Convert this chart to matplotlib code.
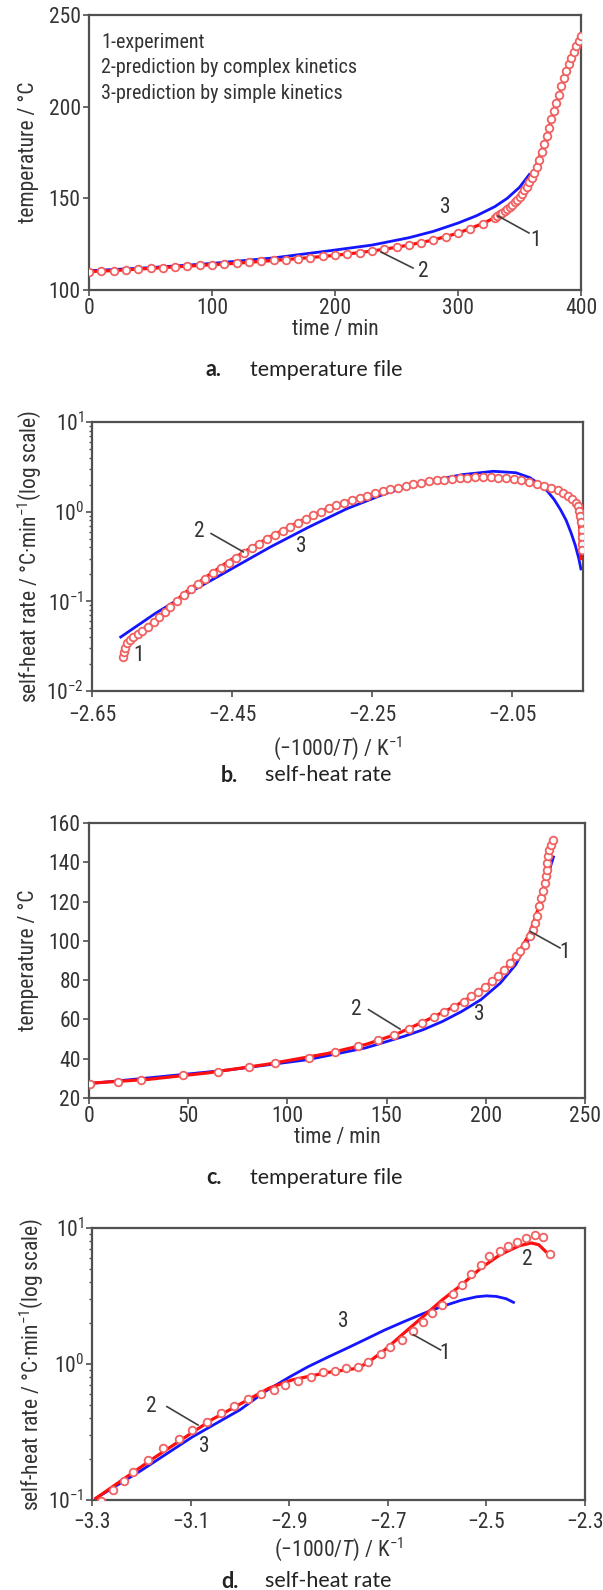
import numpy as np
import matplotlib
matplotlib.use("Agg")
import matplotlib.pyplot as plt
from matplotlib import font_manager as fm

# a narrow sans for the axes text, if one is installed
names = {f.name for f in fm.fontManager.ttflist}
NARROW = None
for cand in ["Liberation Sans Narrow", "Arial Narrow", "Roboto Condensed", "Noto Sans Condensed",
             "Open Sans Condensed", "DejaVu Sans Condensed"]:
    if cand in names:
        NARROW = cand
        break
if NARROW is None:
    cond = [f.name for f in fm.fontManager.ttflist
            if str(f.stretch) in ("condensed", "semi-condensed", "75", "87.5") and f.style == "normal"]
    if cond:
        NARROW = cond[0]
        plt.rcParams["font.stretch"] = "condensed"
    else:
        NARROW = "Liberation Sans"

plt.rcParams["font.family"] = [NARROW, "DejaVu Sans"]
plt.rcParams["mathtext.fontset"] = "custom"
plt.rcParams["mathtext.rm"] = NARROW
plt.rcParams["mathtext.it"] = NARROW + ":italic"
plt.rcParams["mathtext.bf"] = NARROW + ":bold"

#--------------------------- DATA ---------------------------#
# a. temperature file (time / min, temperature / C)
a_exp_t = [0, 10, 20, 30, 40, 50, 60, 70, 80, 90, 100, 110, 120, 130, 140, 150, 160, 170, 180, 190,
           200, 210, 220, 230, 240, 250, 260, 270, 280, 290, 300, 310, 320, 330, 332, 334, 336, 338,
           340, 342, 344, 346, 348, 350, 352, 354, 356, 358, 360, 362, 364, 366, 368, 370, 372, 374,
           376, 378, 380, 382, 384, 386, 388, 390, 392, 394, 396, 398, 400]
a_exp_T = [110, 110.3, 110.6, 111, 111.4, 111.8, 112.2, 112.6, 113, 113.4, 113.8, 114.2, 114.6, 115.1, 115.6,
           116.1, 116.6, 117.1, 117.7, 118.3, 118.9, 119.6, 120.4, 121.2, 122.2, 123.3, 124.5, 125.8, 127.3,
           129, 131, 133.3, 136.2, 139.5, 140.3, 141.2, 142.2, 143.2, 144.3, 145.4, 146.6, 147.9, 149.3,
           150.8, 152.5, 154.3, 156.4, 158.7, 161.2, 164, 167.3, 171, 175, 179.5, 184, 188.5, 193, 197.5,
           202, 206.5, 211, 215.5, 219.5, 223, 226.5, 230, 233, 235.8, 238.5]
a_cx_t = [0, 20, 40, 60, 80, 100, 120, 140, 160, 180, 200, 220, 240, 260, 280, 300, 320, 330, 340,
          350, 360, 370, 380, 390, 400]
a_cx_T = [110, 110.6, 111.4, 112.2, 113, 113.8, 114.6, 115.6, 116.6, 117.7, 118.9, 120.4, 122.2, 124.5,
          127.3, 131, 136.2, 139.5, 144.3, 150.8, 161.2, 179.5, 202, 222, 238.5]
a_sp_t = [0, 50, 100, 150, 200, 230, 260, 280, 300, 315, 330, 340, 350, 358]
a_sp_T = [110.5, 112.2, 114.5, 117.5, 121.8, 124.5, 128.5, 132, 136.5, 140.5, 145.5, 150, 156, 163]

# b. self-heat rate (-1000/T, rate)
b_exp_x = [-2.606, -2.605, -2.603, -2.6, -2.596, -2.591, -2.585, -2.578, -2.57, -2.562, -2.554,
           -2.546, -2.538, -2.529, -2.519, -2.509, -2.499, -2.488, -2.477, -2.466, -2.455, -2.444,
           -2.433, -2.422, -2.411, -2.4, -2.389, -2.378, -2.367, -2.356, -2.345, -2.334, -2.323,
           -2.312, -2.301, -2.29, -2.279, -2.268, -2.257, -2.246, -2.235, -2.224, -2.213, -2.202,
           -2.191, -2.18, -2.169, -2.158, -2.147, -2.136, -2.125, -2.114, -2.103, -2.092, -2.081,
           -2.07, -2.059, -2.048, -2.037, -2.026, -2.015, -2.004, -1.994, -1.985, -1.977, -1.97,
           -1.964, -1.959, -1.956, -1.954, -1.953, -1.952, -1.951, -1.951, -1.951, -1.951]
b_exp_y = [0.024, 0.027, 0.030, 0.034, 0.037, 0.040, 0.043, 0.047, 0.052, 0.059, 0.067, 0.076,
           0.087, 0.102, 0.119, 0.137, 0.156, 0.179, 0.205, 0.235, 0.27, 0.307, 0.347, 0.389, 0.436,
           0.49, 0.55, 0.61, 0.676, 0.75, 0.83, 0.91, 1.0, 1.09, 1.175, 1.26, 1.34, 1.43, 1.51, 1.6,
           1.69, 1.78, 1.86, 1.95, 2.02, 2.1, 2.17, 2.23, 2.28, 2.33, 2.37, 2.39, 2.41, 2.42, 2.41,
           2.39, 2.36, 2.3, 2.23, 2.14, 2.04, 1.95, 1.84, 1.74, 1.62, 1.5, 1.38, 1.26, 1.15, 1.02,
           0.89, 0.76, 0.63, 0.52, 0.44, 0.37]
b_cx_x = [-2.595, -2.57, -2.546, -2.519, -2.488, -2.455, -2.422, -2.389, -2.356, -2.323, -2.29,
          -2.257, -2.224, -2.191, -2.158, -2.125, -2.092, -2.059, -2.026, -2.0, -1.98, -1.966,
          -1.958, -1.954, -1.952]
b_cx_y = [0.04, 0.053, 0.077, 0.122, 0.185, 0.28, 0.4, 0.56, 0.76, 1.01, 1.27, 1.52, 1.78, 2.02,
          2.22, 2.35, 2.4, 2.36, 2.16, 1.93, 1.7, 1.45, 1.1, 0.7, 0.3]
b_sp_x = [-2.609, -2.56, -2.505, -2.45, -2.395, -2.34, -2.286, -2.231, -2.176, -2.121, -2.077,
          -2.045, -2.025, -2.012, -2.0, -1.99, -1.981, -1.973, -1.966, -1.96, -1.955, -1.952]
b_sp_y = [0.040, 0.073, 0.133, 0.232, 0.405, 0.676, 1.08, 1.59, 2.14, 2.59, 2.82, 2.72, 2.4,
          2.05, 1.7, 1.36, 1.05, 0.80, 0.58, 0.42, 0.3, 0.23]

# c. temperature file
c_exp_t = [0.6, 14.6, 26.0, 47.6, 65.0, 80.5, 93.7, 110.8, 124.2, 135.5, 145.6, 153.9, 161.1, 167.9,
           173.9, 178.8, 184.0, 188.9, 192.7, 196.2, 199.5, 203.0, 206.3, 209.2, 212.2, 215.1, 217.0,
           219.9, 222.4, 223.8, 224.8, 225.7, 226.7, 227.7, 228.6, 229.6, 230.2, 230.6, 231.0, 231.4,
           232.1, 232.9, 234.1]
c_exp_T = [27.3, 28.3, 29.3, 31.5, 33.4, 35.6, 37.6, 40.5, 43.4, 46.3, 49.4, 52.2, 55.0, 58.2, 61.1,
           63.6, 66.2, 68.7, 71.8, 74.0, 76.5, 79.4, 82.3, 85.3, 88.7, 92.1, 94.7, 98.1, 102.3, 105.7,
           109.1, 112.5, 117.9, 121.8, 125.2, 129.5, 132.8, 136.2, 139.6, 143.0, 146.4, 149.0, 151.2]
c_cx_t = [0, 30, 60, 90, 120, 140, 155, 170, 185, 195, 205, 212, 218, 222, 226, 229, 231, 233]
c_cx_T = [27.5, 29.5, 32.8, 37.2, 42.6, 47.4, 52.5, 59.5, 67, 73.2, 80.8, 88.2, 96.6, 103.5, 115,
          126, 137, 148]
c_sp_t = [0, 32.6, 71.4, 110.2, 139.4, 158.8, 168.5, 178.2, 187.9, 197.6, 207.3, 215.1, 220.9,
          224.8, 228.6, 231.6, 234.1]
c_sp_T = [27.3, 30.5, 34.4, 39.5, 45.5, 51.4, 54.8, 59.0, 64.1, 70.1, 78.5, 87.9, 98.9, 110.8,
          124.4, 134.5, 142.7]

# d. self-heat rate
d_exp_x = [-3.281, -3.257, -3.236, -3.216, -3.187, -3.155, -3.124, -3.097, -3.067, -3.038, -3.011,
           -2.984, -2.958, -2.931, -2.908, -2.882, -2.856, -2.831, -2.808, -2.784, -2.761, -2.741,
           -2.714, -2.695, -2.671, -2.648, -2.628, -2.611, -2.591, -2.567, -2.55, -2.531, -2.511,
           -2.494, -2.473, -2.456, -2.437, -2.42, -2.402, -2.386, -2.37]
d_exp_y = [0.0989, 0.1185, 0.139, 0.162, 0.197, 0.240, 0.280, 0.328, 0.377, 0.435, 0.492, 0.551,
           0.603, 0.645, 0.703, 0.752, 0.809, 0.866, 0.895, 0.931, 0.958, 1.04, 1.18, 1.33, 1.51,
           1.75, 2.02, 2.37, 2.73, 3.29, 3.83, 4.61, 5.37, 6.18, 6.73, 7.33, 7.84, 8.44, 8.93,
           8.59, 6.44]
d_cx_x = [-3.292, -3.175, -3.058, -2.941, -2.894, -2.823, -2.761, -2.738, -2.706, -2.667, -2.628,
          -2.589, -2.55, -2.511, -2.472, -2.433, -2.409, -2.394, -2.38]
d_cx_y = [0.103, 0.203, 0.388, 0.664, 0.764, 0.866, 0.931, 1.04, 1.27, 1.69, 2.24, 2.97, 3.83,
          5.08, 6.37, 7.41, 7.76, 7.54, 6.73]
d_sp_x = [-3.292, -3.2, -3.097, -3.0, -2.948, -2.9, -2.863, -2.82, -2.784, -2.745, -2.706, -2.667,
          -2.628, -2.59, -2.55, -2.52, -2.5, -2.48, -2.46, -2.445]
d_sp_y = [0.103, 0.165, 0.29, 0.46, 0.63, 0.8, 0.95, 1.13, 1.3, 1.52, 1.78, 2.05, 2.35, 2.65, 2.95,
          3.12, 3.17, 3.14, 3.02, 2.84]

legend_lines = ["1-experiment", "2-prediction by complex kinetics", "3-prediction by simple kinetics"]
captions = [("a.", "temperature file"), ("b.", "self-heat rate"),
            ("c.", "temperature file"), ("d.", "self-heat rate")]

#--------------------------- STYLE ---------------------------#
RED = "#ff1010"
PINK = "#f06060"
BLUE = "#1515ff"
INK = "#333333"
FS = 15.5

fig = plt.figure(figsize=(6.03, 15.9), dpi=100)

def px_axes(left, top, right, bottom):
    W, H = 603.0, 1590.0
    return fig.add_axes([left / W, 1 - bottom / H, (right - left) / W, (bottom - top) / H])

def style(ax, xpad=2):
    for s in ax.spines.values():
        s.set_color("#505050")
        s.set_linewidth(1.6)
    ax.tick_params(which="both", direction="out", color="#505050", labelsize=FS, labelcolor=INK,
                   pad=2)
    ax.tick_params(axis="x", pad=xpad)
    ax.tick_params(which="major", length=4, width=1.2)
    ax.tick_params(which="minor", length=2.5, width=1.0)

def draw(ax, ex, ey, cx, cy, sx, sy):
    ax.plot(sx, sy, color=BLUE, lw=2.0, zorder=2)
    ax.plot(cx, cy, color=RED, lw=2.3, zorder=3)
    ax.plot(ex, ey, ls="none", marker="o", ms=5.5, mfc="white", mec=PINK, mew=1.3, zorder=4)

def tag(ax, txt, x, y):
    ax.text(x, y, txt, fontsize=FS, color=INK, ha="center", va="center", zorder=6)

def leader(ax, x0, y0, x1, y1):
    ax.plot([x0, x1], [y0, y1], color="#404040", lw=1.2, zorder=5)

ylab_log = "self-heat rate / °C·min$^{-1}$(log scale)"
xlab_log = "(−1000/$T$) / K$^{-1}$"

# ---- a ----
ax = px_axes(89, 15, 581, 290)
draw(ax, a_exp_t, a_exp_T, a_cx_t, a_cx_T, a_sp_t, a_sp_T)
ax.set_xlim(0, 400)
ax.set_ylim(100, 250)
ax.set_xticks([0, 100, 200, 300, 400])
ax.set_yticks([100, 150, 200, 250])
ax.set_xlabel("time / min", fontsize=FS, color=INK, labelpad=0)
ax.set_ylabel("temperature / °C", fontsize=FS, color=INK, labelpad=7)
for i, line in enumerate(legend_lines):
    ax.text(0.025, 0.9 - i * 0.092, line, transform=ax.transAxes, fontsize=14.5, color=INK,
            va="center", ha="left")
tag(ax, "3", 290, 145)
tag(ax, "1", 363, 127)
leader(ax, 332.5, 140.4, 357.7, 131.1)
tag(ax, "2", 271.5, 110)
leader(ax, 237.4, 120.7, 263.4, 112)
style(ax)

# ---- b ----
ax = px_axes(92, 422, 583, 691)
draw(ax, b_exp_x, b_exp_y, b_cx_x, b_cx_y, b_sp_x, b_sp_y)
ax.set_yscale("log")
ax.set_xlim(-2.65, -1.949)
ax.set_ylim(1e-2, 1e1)
ax.set_xticks([-2.65, -2.45, -2.25, -2.05])
ax.set_xticklabels(["−2.65", "−2.45", "−2.25", "−2.05"])
ax.set_xlabel(xlab_log, fontsize=FS, color=INK, labelpad=6)
ax.set_ylabel(ylab_log, fontsize=FS, color=INK, labelpad=2)
tag(ax, "2", -2.497, 0.6)
leader(ax, -2.48, 0.57, -2.434, 0.356)
tag(ax, "3", -2.351, 0.405)
tag(ax, "1", -2.584, 0.025)
style(ax, xpad=6)

# ---- c ----
ax = px_axes(89, 823, 585, 1098)
draw(ax, c_exp_t, c_exp_T, c_cx_t, c_cx_T, c_sp_t, c_sp_T)
ax.set_xlim(0, 250)
ax.set_ylim(20, 160)
ax.set_xticks([0, 50, 100, 150, 200, 250])
ax.set_yticks([20, 40, 60, 80, 100, 120, 140, 160])
ax.set_xlabel("time / min", fontsize=FS, color=INK, labelpad=0)
ax.set_ylabel("temperature / °C", fontsize=FS, color=INK, labelpad=7)
tag(ax, "1", 239.5, 94)
leader(ax, 222.4, 104.8, 237.4, 96.4)
tag(ax, "2", 134.5, 65)
leader(ax, 140.9, 65, 156.8, 55.1)
tag(ax, "3", 196.6, 62.4)
style(ax)

# ---- d ----
ax = px_axes(92, 1228, 585, 1500)
draw(ax, d_exp_x, d_exp_y, d_cx_x, d_cx_y, d_sp_x, d_sp_y)
ax.set_yscale("log")
ax.set_xlim(-3.3, -2.3)
ax.set_ylim(1e-1, 1e1)
ax.set_xticks([-3.3, -3.1, -2.9, -2.7, -2.5, -2.3])
ax.set_xticklabels(["−3.3", "−3.1", "−2.9", "−2.7", "−2.5", "−2.3"])
ax.set_xlabel(xlab_log, fontsize=FS, color=INK, labelpad=1)
ax.set_ylabel(ylab_log, fontsize=FS, color=INK, labelpad=2)
tag(ax, "3", -2.79, 2.06)
tag(ax, "1", -2.585, 1.2)
leader(ax, -2.648, 1.64, -2.593, 1.27)
tag(ax, "2", -2.417, 5.85)
tag(ax, "2", -3.179, 0.486)
leader(ax, -3.148, 0.486, -3.085, 0.356)
tag(ax, "3", -3.073, 0.247)
style(ax, xpad=5)

# captions under each panel
cap_y = [370, 775, 1178, 1581]
cap_x = [(206, 250), (221, 265), (206, 250), (221, 265)]
for (lab, txt), y, (x0, x1) in zip(captions, cap_y, cap_x):
    fig.text(x0 / 603, 1 - y / 1590, lab, fontsize=15.5, fontweight="bold", family="Lato",
             color="#222222", va="center", ha="left")
    fig.text(x1 / 603, 1 - y / 1590, txt, fontsize=15.5, family="Lato", color="#222222",
             va="center", ha="left")

fig.savefig("out.png", dpi=100, facecolor="white")
